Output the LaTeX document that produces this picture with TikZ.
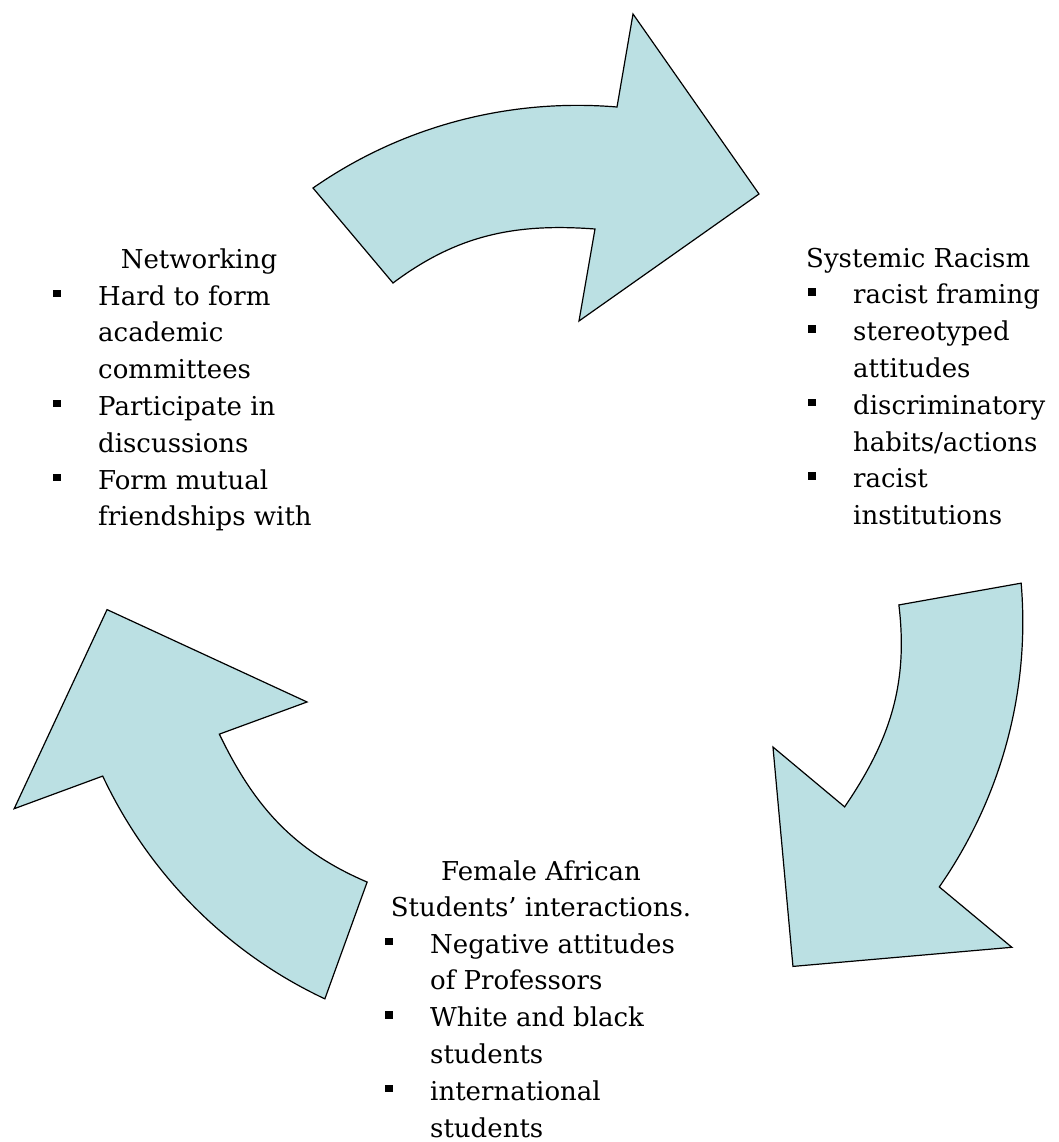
\documentclass[tikz,border=0pt]{standalone}
\usepackage{fontspec}
\setmainfont{DejaVu Serif}
\definecolor{arrowfill}{RGB}{187,224,227}
% square bullet with hanging indent
\newcommand{\sqbul}{\makebox[47pt][l]{\hspace{2pt}\rule[8pt]{7.5pt}{7.5pt}}}
\newcommand{\cont}{\hspace*{47pt}}
\begin{document}
\begin{tikzpicture}[x=1pt,y=-1pt,
  cyclearrow/.style={fill=arrowfill, draw=black, line width=1.2pt, line join=miter},
  blocktext/.style={inner sep=0pt, font=\fontsize{26}{36.8}\selectfont}]
\useasboundingbox (0,0) rectangle (1059,1142);

% centre of the cycle
\coordinate (O) at (553,590);

% three curved arrows, one shape rotated about the centre
\foreach \ang in {0,-120,-240}{
  \path[cyclearrow, rotate around={\ang:(O)}]
    (313,188) .. controls (402,126) and (509,98) .. (617,107)
    -- (633,14) -- (759,194) -- (579,321) -- (595,229)
    .. controls (515,223) and (457,235) .. (393,283) -- cycle;
}

% Systemic Racism
\node[blocktext, anchor=base west] (sysrac) at (806,267) {%
  \begin{tabular}[t]{@{}l@{}}
  Systemic Racism\\
  \sqbul racist framing\\
  \sqbul stereotyped\\
  \cont attitudes\\
  \sqbul discriminatory\\
  \cont habits/actions\\
  \sqbul racist\\
  \cont institutions
  \end{tabular}};

% Networking
\node[blocktext, anchor=base] (nettitle) at (199,268) {Networking};
\node[blocktext, anchor=base west] (netlist) at (51,305) {%
  \begin{tabular}[t]{@{}l@{}}
  \sqbul Hard to form\\
  \cont academic\\
  \cont committees\\
  \sqbul Participate in\\
  \cont discussions\\
  \sqbul Form mutual\\
  \cont friendships with
  \end{tabular}};

% Female African Students' interactions
\node[blocktext, anchor=base] (femtitle) at (541,880) {%
  \begin{tabular}[t]{@{}c@{}}
  Female African\\
  Students’ interactions.
  \end{tabular}};
\node[blocktext, anchor=base west] (femlist) at (383,953) {%
  \begin{tabular}[t]{@{}l@{}}
  \sqbul Negative attitudes\\
  \cont of Professors\\
  \sqbul White and black\\
  \cont students\\
  \sqbul international\\
  \cont students
  \end{tabular}};
\end{tikzpicture}
\end{document}
